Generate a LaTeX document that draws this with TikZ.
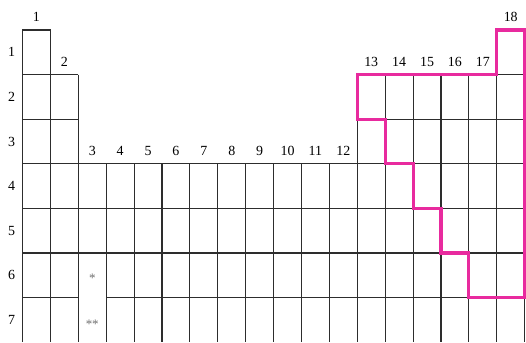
\documentclass[tikz,border=0pt]{standalone}
\usepackage{fontspec}
\setmainfont{Liberation Serif}
\definecolor{blockpink}{RGB}{232,42,158}
\definecolor{cellgray}{RGB}{45,45,45}
\definecolor{stargray}{RGB}{110,110,110}
\tikzset{
	cellline/.style={line width=1.1pt, cellgray},
	grouplab/.style={anchor=south, inner sep=0pt, font=\fontsize{14}{16}\selectfont},
	periodlab/.style={inner sep=0pt, font=\fontsize{14}{16}\selectfont},
	starlab/.style={inner sep=0pt, stargray, font=\fontsize{13}{15}\selectfont}
}
\begin{document}
\begin{tikzpicture}[x=27.9bp, y=44.6bp, yscale=-1]
	\newcommand{\labup}{-0.18}
	\useasboundingbox (-0.8065,-0.6726) rectangle (18.047,7);
	%s block
	\draw [cellline] (0,0) rectangle (1,1);
	\foreach \r in {1,...,6}
		\draw [cellline] (0,\r) -- (2,\r);
	\foreach \c in {0,1,2}
		\draw [cellline] (\c,1) -- (\c,7);
	%d block and lanthanide rows
	\foreach \r in {3,4,5}
		\draw [cellline] (2,\r) -- (18,\r);
	\draw [cellline] (3,6) -- (18,6);
	\foreach \c in {3,...,18}
		\draw [cellline] (\c,3) -- (\c,7);
	%p block
	\foreach \r in {1,2}
		\draw [cellline] (12,\r) -- (18,\r);
	\foreach \c in {12,...,18}
		\draw [cellline] (\c,1) -- (\c,3);
	\draw [cellline] (17,0) rectangle (18,1);
	%nonmetals outline
	\draw [line width=3.2pt, blockpink, line join=miter]
	(12,1) -- (17,1) -- (17,0) -- (18,0) -- (18,6) -- (16,6) -- (16,5)
	-- (15,5) -- (15,4) -- (14,4) -- (14,3) -- (13,3) -- (13,2) -- (12,2) -- cycle;
	%group numbers
	\node [grouplab] (g1) at (0.5,\labup) {1};
	\node [grouplab] (g2) at (1.5,1+\labup) {2};
	\foreach \g in {3,...,12}
		\node [grouplab] (g\g) at (\g-0.5,3+\labup) {\g};
	\foreach \g in {13,...,17}
		\node [grouplab] (g\g) at (\g-0.5,1+\labup) {\g};
	\node [grouplab] (g18) at (17.5,\labup) {18};
	%period numbers
	\foreach \p in {1,...,7}
		\node [periodlab] (p\p) at (-0.394,\p-0.5) {\p};
	%lanthanides and actinides
	\node [starlab] (star6) at (2.5,5.57) {*};
	\node [starlab] (star7) at (2.5,6.6) {**};
\end{tikzpicture}
\end{document}
